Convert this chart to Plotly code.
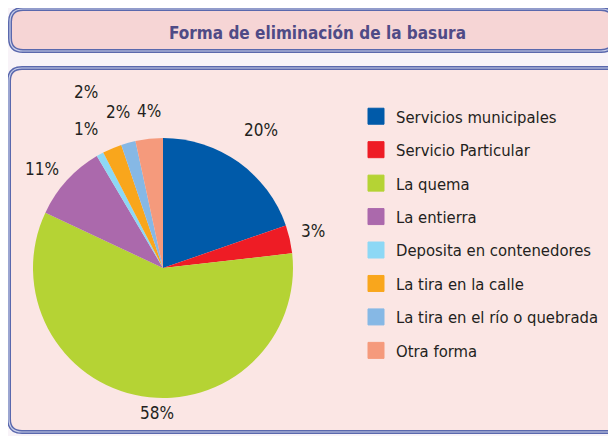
import math
import plotly.graph_objects as go

# ---------------- data ----------------
categories = [
    "Servicios municipales",
    "Servicio Particular",
    "La quema",
    "La entierra",
    "Deposita en contenedores",
    "La tira en la calle",
    "La tira en el río o quebrada",
    "Otra forma",
]
# slice sizes (percent)
values = [19.7, 3.5, 58.8, 9.5, 0.9, 2.4, 1.8, 3.4]
# percentage labels as printed on the chart
label_texts = ["20%", "3%", "58%", "11%", "1%", "2%", "2%", "4%"]
title_text = "Forma de eliminación de la basura"

# ---------------- style ----------------
colors = ["#005aa9", "#ee1c25", "#b5d334", "#ab69ac",
          "#8dd8f5", "#f9a61c", "#86b8e5", "#f59a7c"]
# label placement (distance as multiple of radius, angular nudge in degrees)
label_dist = [1.30, 1.19, 1.12, 1.20, 1.22, 1.25, 1.48, 1.21]
label_nudge = [0, -1, -7, -3, 0, 7, -8, 1]

# the page body adds an 8px margin; work in window pixels
OX, OY = 8, 8
W, H = 608, 428
FONT = "DejaVu Sans Condensed, Liberation Sans Narrow, Arial Narrow, sans-serif"
TEXT_COLOR = "#231f20"

cx, cy, r = 163, 268, 130


def px_x(x):
    return (x - OX) / W


def px_y(y):
    return 1 - (y - OY) / H


def rounded_rect(x0, y0, x1, y1, rad):
    rx, ry = rad / W, rad / H
    X0, X1 = px_x(x0), px_x(x1)
    Y0, Y1 = px_y(y0), px_y(y1)  # Y0 top, Y1 bottom
    return (f"M{X0+rx},{Y0} L{X1-rx},{Y0} Q{X1},{Y0} {X1},{Y0-ry} "
            f"L{X1},{Y1+ry} Q{X1},{Y1} {X1-rx},{Y1} L{X0+rx},{Y1} "
            f"Q{X0},{Y1} {X0},{Y1+ry} L{X0},{Y0-ry} Q{X0},{Y0} {X0+rx},{Y0} Z")


fig = go.Figure()

fig.add_trace(go.Pie(
    labels=categories,
    values=values,
    textinfo="none",
    sort=False,
    direction="clockwise",
    rotation=0,
    marker=dict(colors=colors, line=dict(width=0)),
    domain=dict(x=[px_x(cx - r), px_x(cx + r)], y=[px_y(cy + r), px_y(cy - r)]),
    showlegend=False,
    hoverinfo="label+percent",
))

# legend entries (one per category)
for i, (cat, col) in enumerate(zip(categories, colors)):
    fig.add_trace(go.Scatter(
        x=[None], y=[None], mode="markers", name=cat,
        legendgroup=f"g{i}",
        marker=dict(symbol="square", size=16, color=col, line=dict(width=1, color=col)),
    ))

# percentage labels placed at the mid-angle of each slice
annotations = []
total = sum(values)
cum = 0.0
for v, txt, d, nd in zip(values, label_texts, label_dist, label_nudge):
    mid = (cum + v / 2) / total * 360 + nd
    cum += v
    lx = cx + d * r * math.sin(math.radians(mid))
    ly = cy - d * r * math.cos(math.radians(mid))
    annotations.append(dict(
        text=txt, x=px_x(lx), y=px_y(ly), xref="paper", yref="paper",
        showarrow=False, xanchor="center", yanchor="middle",
        font=dict(family=FONT, size=17, color=TEXT_COLOR),
    ))

annotations.append(dict(
    text=f"<b>{title_text}</b>", x=px_x(317), y=px_y(33),
    xref="paper", yref="paper", showarrow=False,
    xanchor="center", yanchor="middle",
    font=dict(family=FONT, size=17, color="#4f4b86"),
))

shapes = []
# title box
for lw, lc in [(4, "#5a68ad"), (1.2, "#c9cfea")]:
    shapes.append(dict(type="path", xref="paper", yref="paper",
                       path=rounded_rect(10, 9, 614, 51, 13),
                       line=dict(color=lc, width=lw),
                       fillcolor="#f6d5d5" if lw == 4 else "rgba(0,0,0,0)",
                       layer="below"))
# main panel
for lw, lc in [(4, "#5a68ad"), (1.2, "#c9cfea")]:
    shapes.append(dict(type="path", xref="paper", yref="paper",
                       path=rounded_rect(9, 68, 640, 432, 13),
                       line=dict(color=lc, width=lw),
                       fillcolor="#fbe6e4" if lw == 4 else "rgba(0,0,0,0)",
                       layer="below"))

fig.update_layout(
    width=W, height=H,
    margin=dict(l=0, r=0, t=0, b=0),
    paper_bgcolor="#f8f3f8",
    plot_bgcolor="rgba(0,0,0,0)",
    xaxis=dict(visible=False),
    yaxis=dict(visible=False),
    shapes=shapes,
    showlegend=True,
    legend=dict(
        x=px_x(356), y=px_y(99), xanchor="left", yanchor="top",
        font=dict(family=FONT, size=16.5, color=TEXT_COLOR),
        bgcolor="rgba(0,0,0,0)",
        tracegroupgap=9,
        itemclick=False, itemdoubleclick=False,
    ),
    annotations=annotations,
)

fig.write_html("out.html")
